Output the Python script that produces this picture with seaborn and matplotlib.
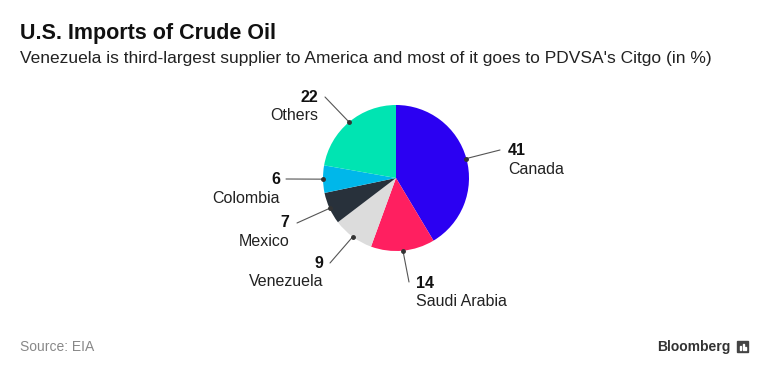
import numpy as np
import matplotlib
matplotlib.use("Agg")
import matplotlib.pyplot as plt
import seaborn as sns

# Data
countries = ["Canada", "Saudi Arabia", "Venezuela", "Mexico", "Colombia", "Others"]
shares = [41, 14, 9, 7, 6, 22]
colors = ["#2b00f2", "#ff1f60", "#dcdcdc", "#28313b", "#00b7ea", "#00e4b2"]

sns.set_theme(style="white")
plt.rcParams["font.family"] = ["Liberation Sans", "DejaVu Sans"]

W, H = 768, 374
fig = plt.figure(figsize=(W / 100, H / 100), dpi=100)
ax = fig.add_axes([0, 0, 1, 1])

cx, cy, r = 396, 374 - 178, 73
wedges, _ = ax.pie(shares, colors=colors, startangle=90, counterclock=False,
                   center=(cx, cy), radius=r, frame=True,
                   wedgeprops=dict(linewidth=0))
ax.set_xlim(0, W)
ax.set_ylim(0, H)
ax.set_aspect("equal")
ax.axis("off")

# label layout: (line end x, y in px from top), text x, number y, label y, ha
layout = {
    "Canada":       ((500, 150), 508, 150, 169, "left"),
    "Saudi Arabia": ((409, 282), 416, 284, 302, "left"),
    "Venezuela":    ((330, 263), 323, 263, 282, "right"),
    "Mexico":       ((297, 223), 289, 222, 241, "right"),
    "Colombia":     ((286, 179), 280, 179, 198, "right"),
    "Others":       ((325, 97), 318, 97, 115, "right"),
}

for w, name, val in zip(wedges, countries, shares):
    mid = np.deg2rad((w.theta1 + w.theta2) / 2)
    px, py = cx + r * np.cos(mid), cy + r * np.sin(mid)
    (ex, ey), tx, ny, ly, ha = layout[name]
    ax.plot([px, ex], [py, H - ey], color="#555555", lw=0.8, zorder=3)
    ax.plot(px, py, "o", color="#333333", ms=2.5, zorder=4)
    ax.text(tx, H - ny, str(val), ha=ha, va="center", fontsize=11.5,
            fontweight="bold", color="#111111")
    ax.text(tx, H - ly, name, ha=ha, va="center", fontsize=11.5,
            color="#222222")

fig.text(20 / W, 1 - 33 / H, "U.S. Imports of Crude Oil", fontsize=15.5,
         fontweight="bold", color="#111111", va="center")
fig.text(20 / W, 1 - 59 / H,
         "Venezuela is third-largest supplier to America and most of it goes to PDVSA's Citgo (in %)",
         fontsize=12.5, color="#222222", va="center")
fig.text(20 / W, 1 - 347 / H, "Source: EIA", fontsize=10, color="#888888",
         va="center")
fig.text(731 / W, 1 - 347 / H, "Bloomberg", fontsize=10, fontweight="bold",
         color="#333333", va="center", ha="right")

# little Bloomberg logo mark
ax.add_patch(plt.Rectangle((737, H - 352), 11, 11, color="#444444", zorder=5))
for bx, bh in [(740, 4), (742.5, 6), (745, 3)]:
    ax.add_patch(plt.Rectangle((bx, H - 350), 1.2, bh, color="white", zorder=6))

fig.savefig("out.png", dpi=100, facecolor="white")
